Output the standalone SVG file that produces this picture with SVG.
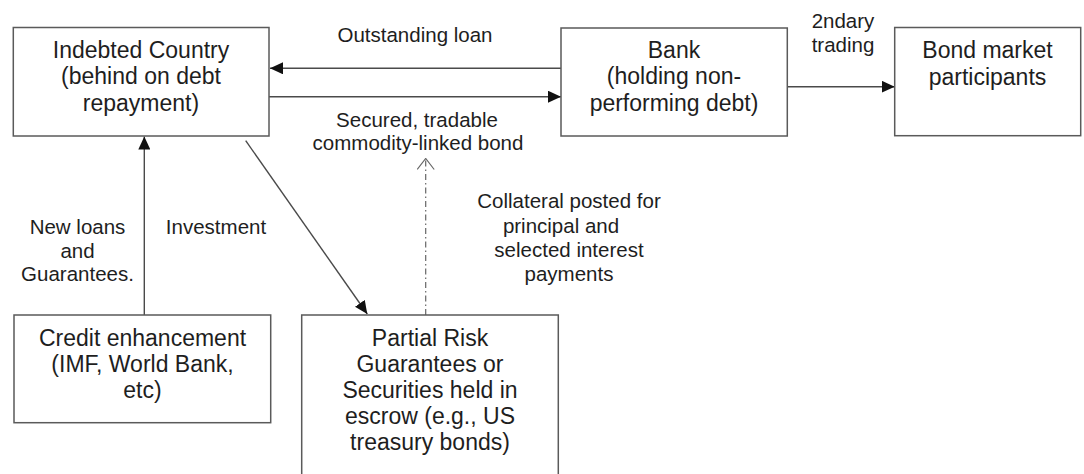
<svg xmlns="http://www.w3.org/2000/svg" width="1084" height="474" viewBox="0 0 1084 474">
<style>
.box{fill:#fff;stroke:#5a5a5a;stroke-width:1.5}
.nt{font-family:"Liberation Sans",Arial,sans-serif;font-size:23px;fill:#1e1e1e;text-anchor:middle}
.lt{font-family:"Liberation Sans",Arial,sans-serif;font-size:20.5px;fill:#1e1e1e;text-anchor:middle}
.ln{fill:none;stroke:#4a4a4a;stroke-width:1.4}
.dd{fill:none;stroke:#666;stroke-width:1.2;stroke-dasharray:6 3 1.5 3}
</style>
<defs>
<marker id="fa" viewBox="0 0 13 12" refX="13" refY="6" markerWidth="13" markerHeight="12" markerUnits="userSpaceOnUse" orient="auto">
<path d="M0,0 L13,6 L0,12 Z" fill="#111"/>
</marker>
<marker id="oa" viewBox="0 0 12 18" refX="11" refY="9" markerWidth="12" markerHeight="18" markerUnits="userSpaceOnUse" orient="auto">
<path d="M0,0.5 L11,9 L0,17.5" fill="none" stroke="#666" stroke-width="1.2"/>
</marker>
</defs>
<rect width="1084" height="474" fill="#fff"/>
<g id="connectors">
<line class="ln" x1="561" y1="68.3" x2="270" y2="68.3" marker-end="url(#fa)"/>
<line class="ln" x1="269" y1="96.7" x2="561" y2="96.7" marker-end="url(#fa)"/>
<line class="ln" x1="787.3" y1="86.7" x2="894.7" y2="86.7" marker-end="url(#fa)"/>
<line class="ln" x1="144.3" y1="315" x2="144.3" y2="136.5" marker-end="url(#fa)"/>
<line class="ln" x1="245.7" y1="140.7" x2="367.3" y2="314" marker-end="url(#fa)"/>
<line class="dd" x1="425.7" y1="315" x2="425.7" y2="158.5" marker-end="url(#oa)"/>
<text class="lt" x="415" y="41.7">Outstanding loan</text>
<text class="lt" x="417" y="126.7">Secured, tradable</text>
<text class="lt" x="418" y="150">commodity-linked bond</text>
<text class="lt" x="843" y="28.3">2ndary</text>
<text class="lt" x="843" y="51.7">trading</text>
<text class="lt" x="77.5" y="234">New loans</text>
<text class="lt" x="77.5" y="257.5">and</text>
<text class="lt" x="77.5" y="281">Guarantees.</text>
<text class="lt" x="216" y="234">Investment</text>
<text class="lt" x="569" y="208.3">Collateral posted for</text>
<text class="lt" x="561" y="232.5">principal and</text>
<text class="lt" x="569" y="256.7">selected interest</text>
<text class="lt" x="569" y="280.5">payments</text>
</g>
<g id="indebted">
<rect class="box" x="13.3" y="27.5" width="255.7" height="108.5"/>
<text class="nt" x="141" y="58.3">Indebted Country</text>
<text class="nt" x="141" y="84.3">(behind on debt</text>
<text class="nt" x="141" y="110.7">repayment)</text>
</g>
<g id="bank">
<rect class="box" x="561" y="28" width="226.3" height="108"/>
<text class="nt" x="674" y="58.3">Bank</text>
<text class="nt" x="674" y="84.3">(holding non-</text>
<text class="nt" x="674" y="110.7">performing debt)</text>
</g>
<g id="bondmarket">
<rect class="box" x="894.7" y="27.5" width="186" height="108.2"/>
<text class="nt" x="987.5" y="58.3">Bond market</text>
<text class="nt" x="987.5" y="85">participants</text>
</g>
<g id="credit">
<rect class="box" x="14" y="315" width="256.7" height="107.7"/>
<text class="nt" x="142.5" y="346">Credit enhancement</text>
<text class="nt" x="142.5" y="372">(IMF, World Bank,</text>
<text class="nt" x="142.5" y="397.5">etc)</text>
</g>
<g id="partialrisk">
<rect class="box" x="301.7" y="315" width="256.6" height="170"/>
<text class="nt" x="430" y="346">Partial Risk</text>
<text class="nt" x="430" y="372">Guarantees or</text>
<text class="nt" x="430" y="398">Securities held in</text>
<text class="nt" x="430" y="424">escrow (e.g., US</text>
<text class="nt" x="430" y="449.5">treasury bonds)</text>
</g>
</svg>
